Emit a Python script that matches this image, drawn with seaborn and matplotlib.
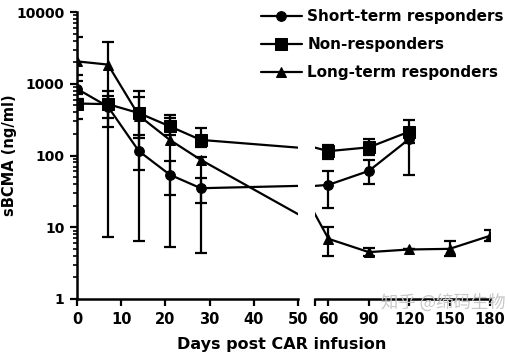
import numpy as np
import matplotlib
matplotlib.use('Agg')
import matplotlib.pyplot as plt
import seaborn as sns

# days post infusion for each group
days_short = [0, 7, 14, 21, 28, 60, 90, 120]
days_non = [0, 7, 14, 21, 28, 60, 90, 120]
days_long = [0, 7, 14, 21, 28, 60, 90, 120, 150, 180]

# sBCMA (ng/ml), with lower / upper error bar ends
short_val = [850, 480, 115, 54, 35, 39, 61, 170]
short_lo = [620, 250, 62, 28, 22, 18.5, 40, 54]
short_hi = [1100, 680, 190, 85, 49, 60, 87, 220]

non_val = [530, 520, 390, 255, 165, 115, 130, 215]
non_lo = [325, 330, 178, 190, 130, 88, 103, 150]
non_hi = [720, 800, 645, 370, 240, 140, 168, 313]

long_val = [2050, 1850, 360, 165, 87, 6.9, 4.5, 4.9, 5.0, 7.6]
long_lo = [1330, 7.3, 6.5, 5.3, 4.4, 4.0, 4.0, 4.9, 4.0, 6.4]
long_hi = [4500, 3800, 780, 330, 95, 10, 5.1, 4.9, 6.4, 9.3]

labels = ['Short-term responders', 'Non-responders', 'Long-term responders']
markers = ['o', 's', '^']

sns.set_style('ticks', {'axes.edgecolor': 'black', 'text.color': 'black',
                        'axes.labelcolor': 'black', 'xtick.color': 'black',
                        'ytick.color': 'black'})
plt.rcParams['font.family'] = ['DejaVu Sans']
plt.rcParams['font.weight'] = 'bold'

fig = plt.figure(figsize=(5.08, 3.56), dpi=100)
ax1 = fig.add_axes([77 / 508, 1 - 299 / 356, 221 / 508, 287 / 356])
ax2 = fig.add_axes([315 / 508, 1 - 299 / 356, 175 / 508, 287 / 356])

groups = [
    (days_short, short_val, short_lo, short_hi),
    (days_non, non_val, non_lo, non_hi),
    (days_long, long_val, long_lo, long_hi),
]

for ax in (ax1, ax2):
    for (d, v, lo, hi), lab, m in zip(groups, labels, markers):
        ms = 8 if m == 's' else 7
        sns.lineplot(x=d, y=v, ax=ax, color='black', lw=1.6, marker=m,
                     markersize=ms, markeredgecolor='black', label=lab,
                     legend=False, clip_on=True)
        v = np.array(v)
        err = [v - np.array(lo), np.array(hi) - v]
        ax.errorbar(d, v, yerr=err, fmt='none', ecolor='black',
                    elinewidth=1.6, capsize=4.5, capthick=1.6)
    ax.set_yscale('log')
    ax.set_ylim(1, 10000)
    ax.tick_params(axis='both', which='major', width=1.6, length=5,
                   labelsize=10.5, pad=4, colors='black')
    ax.tick_params(axis='y', which='minor', width=1.2, length=3, colors='black')
    for s in ax.spines.values():
        s.set_linewidth(1.8)
        s.set_color('black')
    ax.spines['top'].set_visible(False)
    ax.spines['right'].set_visible(False)

ax1.set_xlim(0, 50)
ax1.set_xticks([0, 10, 20, 30, 40, 50])
ax1.set_yticks([1, 10, 100, 1000, 10000])
ax1.set_yticklabels(['1', '10', '100', '1000', '10000'])
ax1.tick_params(axis='y', which='major', labelsize=10)
ax1.set_ylabel('sBCMA (ng/ml)', fontsize=10.5, fontweight='bold', color='black')
ax1.yaxis.set_label_coords(-0.27, 0.5)

ax2.set_xlim(50, 180)
ax2.set_xticks([50, 60, 90, 120, 150, 180])
ax2.set_xticklabels(['', '60', '90', '120', '150', '180'])
ax2.spines['left'].set_visible(False)
ax2.tick_params(axis='y', which='both', left=False, labelleft=False)

fig.text(0.555, 0.01, 'Days post CAR infusion', ha='center', va='bottom',
         fontsize=11.5, fontweight='bold', color='black')

handles = [h for h in ax1.get_lines() if h.get_label() in labels][:3]
fig.legend(handles, labels, loc='upper right', bbox_to_anchor=(1.01, 1.0),
           frameon=False, fontsize=11, handlelength=2.7, labelspacing=0.85,
           handletextpad=0.35, borderaxespad=0.2, labelcolor='black')

fig.text(0.995, 0.125, '知乎 @缔码生物', ha='right', va='bottom', fontsize=12.5,
         color='#c8c8c8', family=['Noto Sans CJK SC', 'DejaVu Sans'],
         fontweight='normal')

fig.savefig('out.png', dpi=100)
